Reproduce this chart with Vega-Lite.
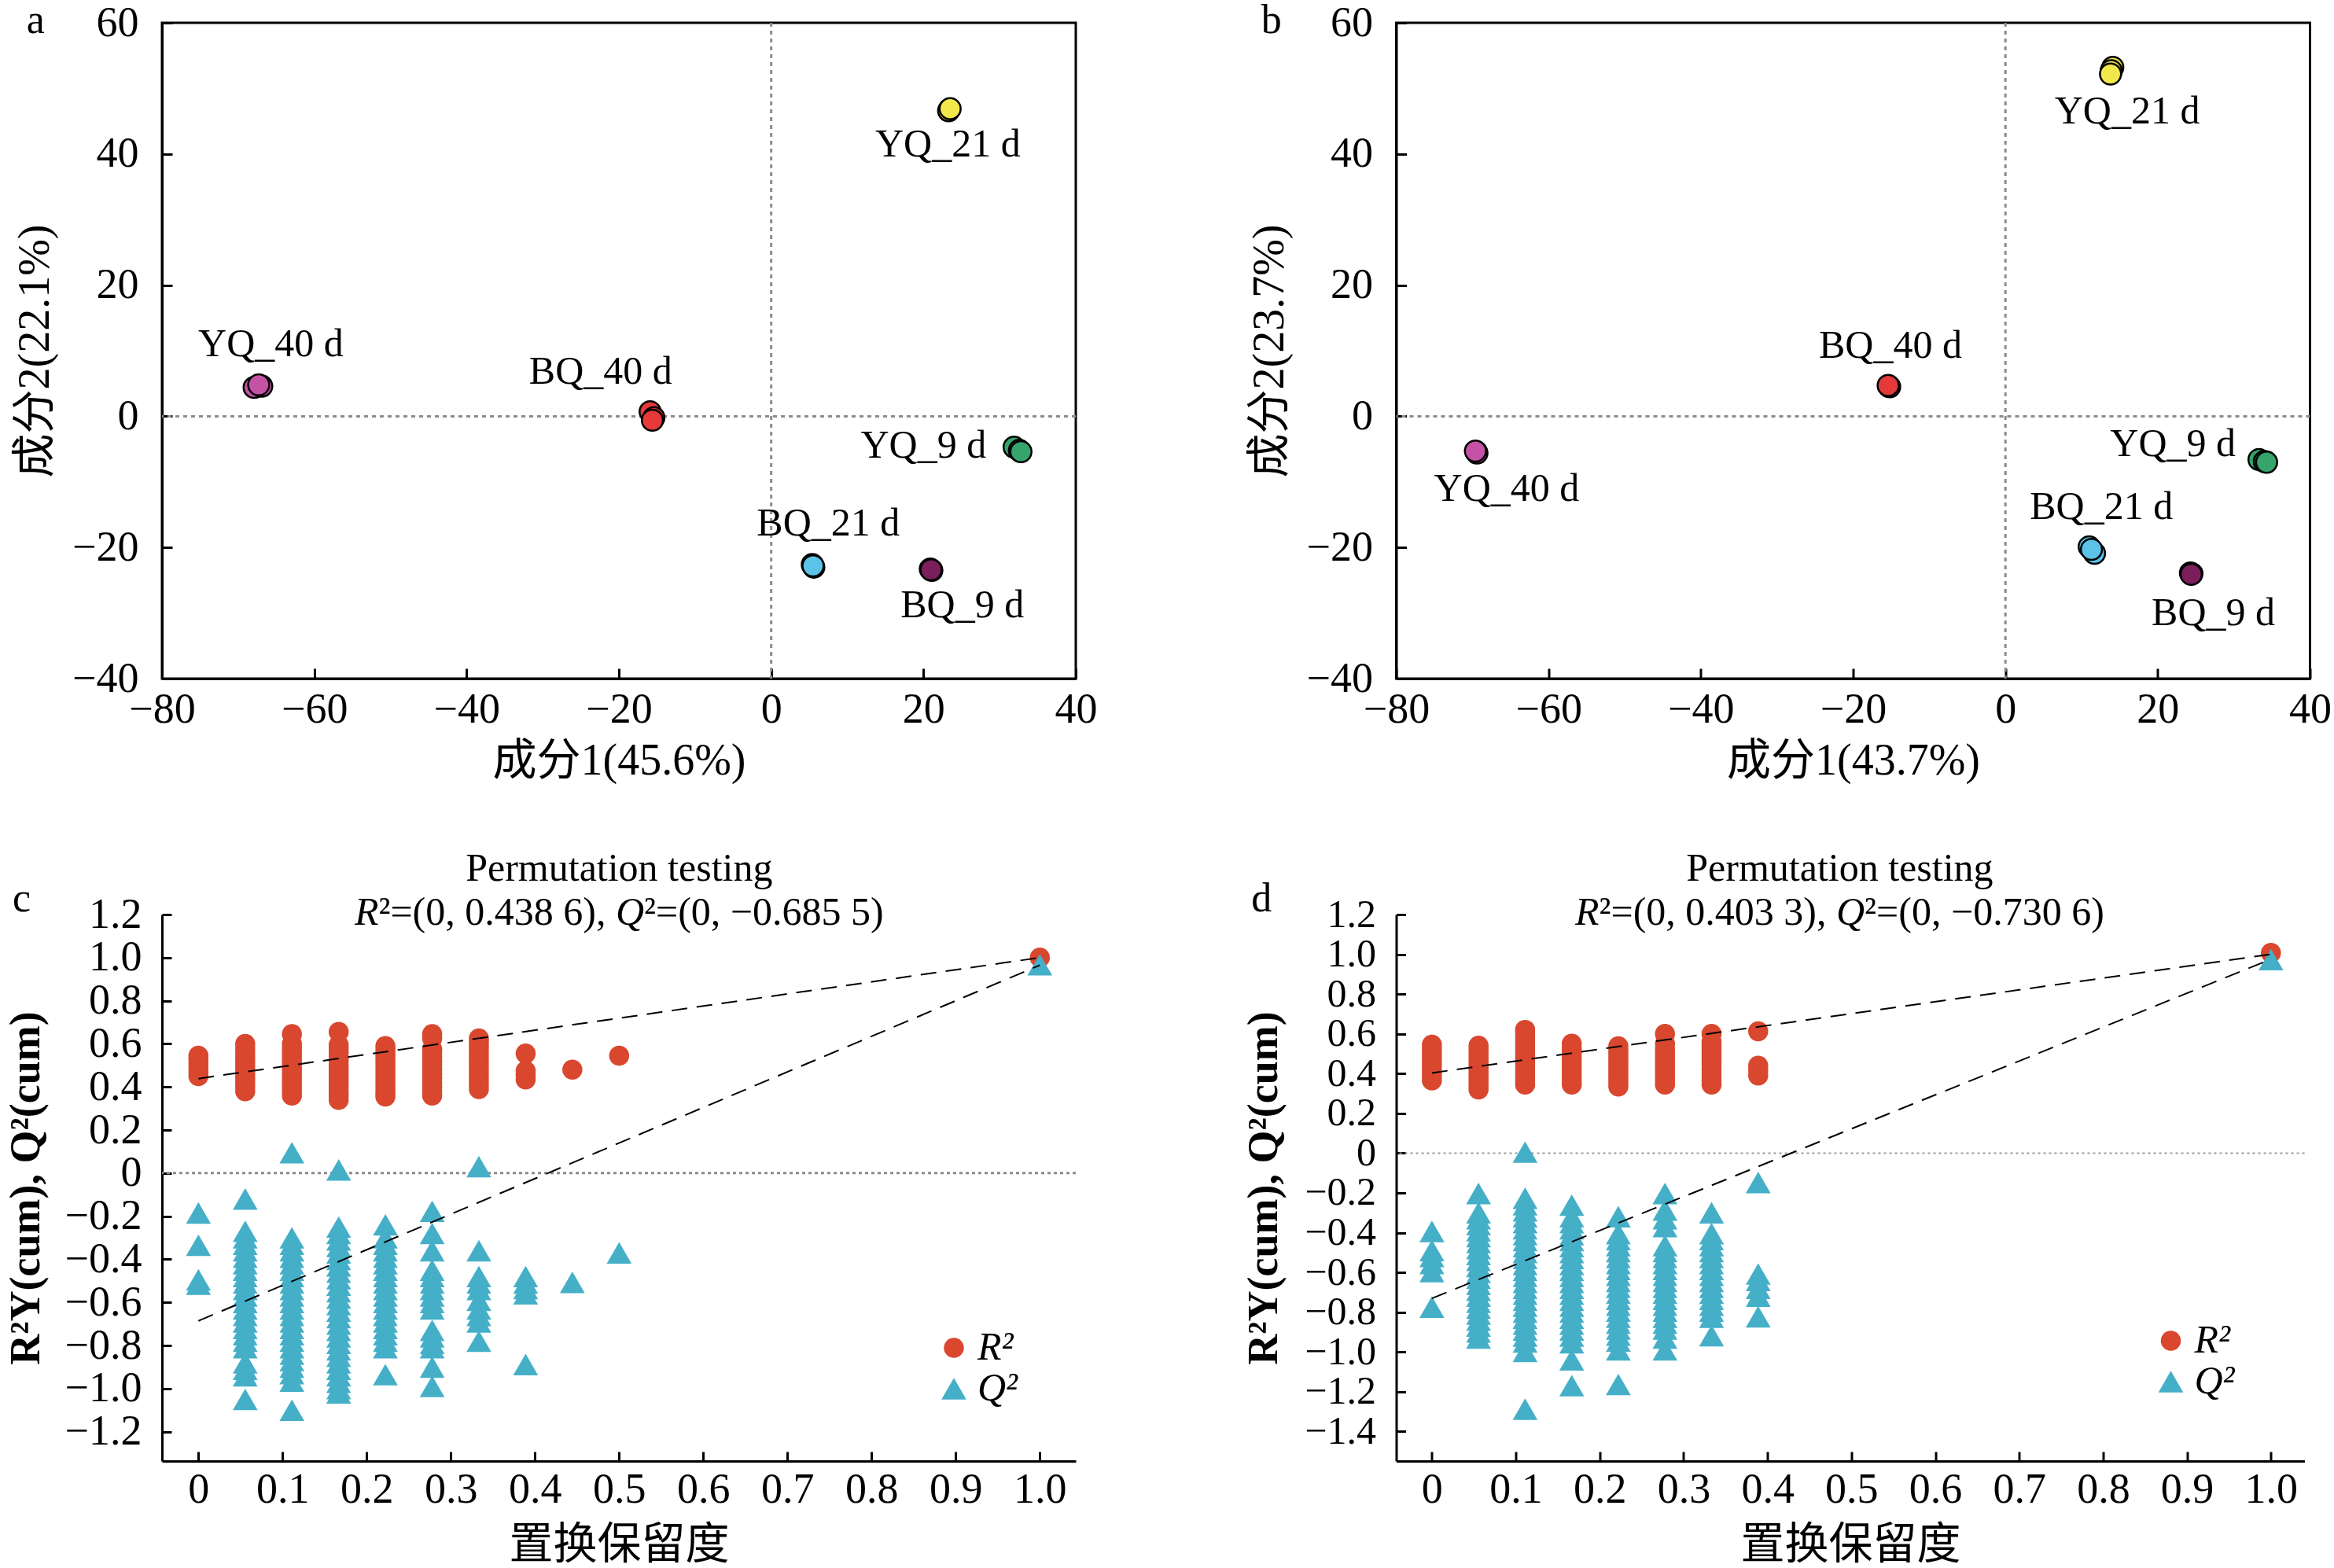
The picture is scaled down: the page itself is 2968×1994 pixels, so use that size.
{
"$schema": "https://vega.github.io/schema/vega-lite/v6.json",
"padding": {"left": 6, "top": -2, "right": 0, "bottom": 0},
"background": "white",
"config": {
  "view": {"stroke": null},
  "font": "Liberation Serif",
  "axis": {"grid": false, "domainColor": "black", "domainWidth": 3, "tickColor": "black", "tickWidth": 3, "labelColor": "black", "labelFont": "Liberation Serif", "labelFontSize": 54, "titleColor": "black", "titleFont": "Liberation Serif, Noto Sans CJK SC", "titleFontSize": 56, "titleFontWeight": "normal", "labelFlush": false, "labelOverlap": false},
  "axisX": {"tickSize": -13, "labelPadding": 68, "labelBaseline": "alphabetic", "titleBaseline": "alphabetic", "titlePadding": 55},
  "axisY": {"tickSize": -13, "labelPadding": 43, "titleBaseline": "alphabetic", "titlePadding": 30}
},
"resolve": {"scale": {"color": "independent", "shape": "independent", "size": "independent"}},
"columns": 2,
"spacing": {"row": 300, "column": 407.5},
"bounds": "flush",
"datasets": {
  "a": [
    {"g":"YQ_21 d","x":23.4,"y":46.8},{"g":"YQ_21 d","x":23.3,"y":46.6},{"g":"YQ_21 d","x":23.5,"y":46.9},
    {"g":"YQ_40 d","x":-67.9,"y":4.4},{"g":"YQ_40 d","x":-66.9,"y":4.6},{"g":"YQ_40 d","x":-67.3,"y":4.8},
    {"g":"BQ_40 d","x":-15.9,"y":0.7},{"g":"BQ_40 d","x":-15.4,"y":-0.2},{"g":"BQ_40 d","x":-15.6,"y":-0.6},
    {"g":"YQ_9 d","x":31.9,"y":-4.7},{"g":"YQ_9 d","x":32.6,"y":-5.2},{"g":"YQ_9 d","x":32.8,"y":-5.4},
    {"g":"BQ_21 d","x":5.4,"y":-22.6},{"g":"BQ_21 d","x":5.6,"y":-23.0},{"g":"BQ_21 d","x":5.5,"y":-22.8},
    {"g":"BQ_9 d","x":20.9,"y":-23.3},{"g":"BQ_9 d","x":21.1,"y":-23.5},{"g":"BQ_9 d","x":21.0,"y":-23.4}
  ],
  "al": [
    {"g":"YQ_21 d","x":23.2,"y":41.4},{"g":"YQ_40 d","x":-65.7,"y":10.9},{"g":"BQ_40 d","x":-22.4,"y":6.8},
    {"g":"YQ_9 d","x":20.0,"y":-4.5},{"g":"BQ_21 d","x":7.5,"y":-16.4},{"g":"BQ_9 d","x":25.1,"y":-28.9}
  ],
  "b": [
    {"g":"YQ_21 d","x":14.1,"y":53.2},{"g":"YQ_21 d","x":13.9,"y":52.7},{"g":"YQ_21 d","x":13.8,"y":52.2},
    {"g":"BQ_40 d","x":-15.3,"y":4.6},{"g":"BQ_40 d","x":-15.2,"y":4.5},{"g":"BQ_40 d","x":-15.4,"y":4.7},
    {"g":"YQ_40 d","x":-69.5,"y":-5.4},{"g":"YQ_40 d","x":-69.4,"y":-5.6},{"g":"YQ_40 d","x":-69.6,"y":-5.3},
    {"g":"YQ_9 d","x":33.3,"y":-6.6},{"g":"YQ_9 d","x":34.0,"y":-6.9},{"g":"YQ_9 d","x":34.3,"y":-7.0},
    {"g":"BQ_21 d","x":11.0,"y":-19.9},{"g":"BQ_21 d","x":11.7,"y":-20.9},{"g":"BQ_21 d","x":11.3,"y":-20.3},
    {"g":"BQ_9 d","x":24.3,"y":-23.9},{"g":"BQ_9 d","x":24.5,"y":-24.0},{"g":"BQ_9 d","x":24.4,"y":-24.1}
  ],
  "bl": [
    {"g":"YQ_21 d","x":16.0,"y":46.4},{"g":"BQ_40 d","x":-15.1,"y":10.7},{"g":"YQ_40 d","x":-65.5,"y":-11.1},
    {"g":"YQ_9 d","x":22.0,"y":-4.3},{"g":"BQ_21 d","x":12.6,"y":-13.9},{"g":"BQ_9 d","x":27.3,"y":-30.0}
  ],
  "c": [
    {"s":"R²","x":0,"y":0.45},{"s":"R²","x":0,"y":0.47},{"s":"R²","x":0,"y":0.49},{"s":"R²","x":0,"y":0.51},{"s":"R²","x":0,"y":0.53},{"s":"R²","x":0,"y":0.545},
    {"s":"R²","x":0.0556,"y":0.38},{"s":"R²","x":0.0556,"y":0.40},{"s":"R²","x":0.0556,"y":0.42},{"s":"R²","x":0.0556,"y":0.44},{"s":"R²","x":0.0556,"y":0.46},{"s":"R²","x":0.0556,"y":0.48},{"s":"R²","x":0.0556,"y":0.50},{"s":"R²","x":0.0556,"y":0.52},{"s":"R²","x":0.0556,"y":0.54},{"s":"R²","x":0.0556,"y":0.56},{"s":"R²","x":0.0556,"y":0.58},{"s":"R²","x":0.0556,"y":0.60},
    {"s":"R²","x":0.1111,"y":0.36},{"s":"R²","x":0.1111,"y":0.38},{"s":"R²","x":0.1111,"y":0.40},{"s":"R²","x":0.1111,"y":0.42},{"s":"R²","x":0.1111,"y":0.44},{"s":"R²","x":0.1111,"y":0.46},{"s":"R²","x":0.1111,"y":0.48},{"s":"R²","x":0.1111,"y":0.50},{"s":"R²","x":0.1111,"y":0.52},{"s":"R²","x":0.1111,"y":0.54},{"s":"R²","x":0.1111,"y":0.56},{"s":"R²","x":0.1111,"y":0.58},{"s":"R²","x":0.1111,"y":0.60},{"s":"R²","x":0.1111,"y":0.645},
    {"s":"R²","x":0.1667,"y":0.34},{"s":"R²","x":0.1667,"y":0.36},{"s":"R²","x":0.1667,"y":0.38},{"s":"R²","x":0.1667,"y":0.40},{"s":"R²","x":0.1667,"y":0.42},{"s":"R²","x":0.1667,"y":0.44},{"s":"R²","x":0.1667,"y":0.46},{"s":"R²","x":0.1667,"y":0.48},{"s":"R²","x":0.1667,"y":0.50},{"s":"R²","x":0.1667,"y":0.52},{"s":"R²","x":0.1667,"y":0.54},{"s":"R²","x":0.1667,"y":0.56},{"s":"R²","x":0.1667,"y":0.58},{"s":"R²","x":0.1667,"y":0.595},{"s":"R²","x":0.1667,"y":0.655},
    {"s":"R²","x":0.2222,"y":0.355},{"s":"R²","x":0.2222,"y":0.37},{"s":"R²","x":0.2222,"y":0.39},{"s":"R²","x":0.2222,"y":0.41},{"s":"R²","x":0.2222,"y":0.43},{"s":"R²","x":0.2222,"y":0.45},{"s":"R²","x":0.2222,"y":0.47},{"s":"R²","x":0.2222,"y":0.49},{"s":"R²","x":0.2222,"y":0.51},{"s":"R²","x":0.2222,"y":0.53},{"s":"R²","x":0.2222,"y":0.55},{"s":"R²","x":0.2222,"y":0.57},{"s":"R²","x":0.2222,"y":0.59},
    {"s":"R²","x":0.2778,"y":0.36},{"s":"R²","x":0.2778,"y":0.38},{"s":"R²","x":0.2778,"y":0.40},{"s":"R²","x":0.2778,"y":0.42},{"s":"R²","x":0.2778,"y":0.44},{"s":"R²","x":0.2778,"y":0.46},{"s":"R²","x":0.2778,"y":0.48},{"s":"R²","x":0.2778,"y":0.50},{"s":"R²","x":0.2778,"y":0.52},{"s":"R²","x":0.2778,"y":0.54},{"s":"R²","x":0.2778,"y":0.56},{"s":"R²","x":0.2778,"y":0.575},{"s":"R²","x":0.2778,"y":0.625},{"s":"R²","x":0.2778,"y":0.645},
    {"s":"R²","x":0.3333,"y":0.39},{"s":"R²","x":0.3333,"y":0.41},{"s":"R²","x":0.3333,"y":0.43},{"s":"R²","x":0.3333,"y":0.45},{"s":"R²","x":0.3333,"y":0.47},{"s":"R²","x":0.3333,"y":0.49},{"s":"R²","x":0.3333,"y":0.51},{"s":"R²","x":0.3333,"y":0.53},{"s":"R²","x":0.3333,"y":0.55},{"s":"R²","x":0.3333,"y":0.57},{"s":"R²","x":0.3333,"y":0.59},{"s":"R²","x":0.3333,"y":0.61},{"s":"R²","x":0.3333,"y":0.625},
    {"s":"R²","x":0.3889,"y":0.435},{"s":"R²","x":0.3889,"y":0.455},{"s":"R²","x":0.3889,"y":0.475},{"s":"R²","x":0.3889,"y":0.555},
    {"s":"R²","x":0.4444,"y":0.48},{"s":"R²","x":0.5,"y":0.545},{"s":"R²","x":1,"y":1.0},
    {"s":"Q²","x":0,"y":-0.185},{"s":"Q²","x":0,"y":-0.335},{"s":"Q²","x":0,"y":-0.495},{"s":"Q²","x":0,"y":-0.515},
    {"s":"Q²","x":0.0556,"y":-0.12},{"s":"Q²","x":0.0556,"y":-0.27},{"s":"Q²","x":0.0556,"y":-0.30},{"s":"Q²","x":0.0556,"y":-0.33},{"s":"Q²","x":0.0556,"y":-0.36},{"s":"Q²","x":0.0556,"y":-0.39},{"s":"Q²","x":0.0556,"y":-0.42},{"s":"Q²","x":0.0556,"y":-0.45},{"s":"Q²","x":0.0556,"y":-0.48},{"s":"Q²","x":0.0556,"y":-0.51},{"s":"Q²","x":0.0556,"y":-0.54},{"s":"Q²","x":0.0556,"y":-0.57},{"s":"Q²","x":0.0556,"y":-0.60},{"s":"Q²","x":0.0556,"y":-0.63},{"s":"Q²","x":0.0556,"y":-0.66},{"s":"Q²","x":0.0556,"y":-0.69},{"s":"Q²","x":0.0556,"y":-0.72},{"s":"Q²","x":0.0556,"y":-0.75},{"s":"Q²","x":0.0556,"y":-0.78},{"s":"Q²","x":0.0556,"y":-0.81},{"s":"Q²","x":0.0556,"y":-0.88},{"s":"Q²","x":0.0556,"y":-0.91},{"s":"Q²","x":0.0556,"y":-0.94},{"s":"Q²","x":0.0556,"y":-1.05},
    {"s":"Q²","x":0.1111,"y":0.095},{"s":"Q²","x":0.1111,"y":-0.30},{"s":"Q²","x":0.1111,"y":-0.33},{"s":"Q²","x":0.1111,"y":-0.36},{"s":"Q²","x":0.1111,"y":-0.39},{"s":"Q²","x":0.1111,"y":-0.42},{"s":"Q²","x":0.1111,"y":-0.45},{"s":"Q²","x":0.1111,"y":-0.48},{"s":"Q²","x":0.1111,"y":-0.51},{"s":"Q²","x":0.1111,"y":-0.54},{"s":"Q²","x":0.1111,"y":-0.57},{"s":"Q²","x":0.1111,"y":-0.60},{"s":"Q²","x":0.1111,"y":-0.63},{"s":"Q²","x":0.1111,"y":-0.66},{"s":"Q²","x":0.1111,"y":-0.69},{"s":"Q²","x":0.1111,"y":-0.72},{"s":"Q²","x":0.1111,"y":-0.75},{"s":"Q²","x":0.1111,"y":-0.78},{"s":"Q²","x":0.1111,"y":-0.81},{"s":"Q²","x":0.1111,"y":-0.84},{"s":"Q²","x":0.1111,"y":-0.87},{"s":"Q²","x":0.1111,"y":-0.90},{"s":"Q²","x":0.1111,"y":-0.93},{"s":"Q²","x":0.1111,"y":-0.965},{"s":"Q²","x":0.1111,"y":-1.10},
    {"s":"Q²","x":0.1667,"y":0.015},{"s":"Q²","x":0.1667,"y":-0.25},{"s":"Q²","x":0.1667,"y":-0.28},{"s":"Q²","x":0.1667,"y":-0.31},{"s":"Q²","x":0.1667,"y":-0.34},{"s":"Q²","x":0.1667,"y":-0.37},{"s":"Q²","x":0.1667,"y":-0.40},{"s":"Q²","x":0.1667,"y":-0.43},{"s":"Q²","x":0.1667,"y":-0.46},{"s":"Q²","x":0.1667,"y":-0.49},{"s":"Q²","x":0.1667,"y":-0.52},{"s":"Q²","x":0.1667,"y":-0.55},{"s":"Q²","x":0.1667,"y":-0.58},{"s":"Q²","x":0.1667,"y":-0.61},{"s":"Q²","x":0.1667,"y":-0.64},{"s":"Q²","x":0.1667,"y":-0.67},{"s":"Q²","x":0.1667,"y":-0.70},{"s":"Q²","x":0.1667,"y":-0.73},{"s":"Q²","x":0.1667,"y":-0.76},{"s":"Q²","x":0.1667,"y":-0.79},{"s":"Q²","x":0.1667,"y":-0.82},{"s":"Q²","x":0.1667,"y":-0.85},{"s":"Q²","x":0.1667,"y":-0.88},{"s":"Q²","x":0.1667,"y":-0.91},{"s":"Q²","x":0.1667,"y":-0.94},{"s":"Q²","x":0.1667,"y":-0.97},{"s":"Q²","x":0.1667,"y":-1.00},{"s":"Q²","x":0.1667,"y":-1.02},
    {"s":"Q²","x":0.2222,"y":-0.24},{"s":"Q²","x":0.2222,"y":-0.30},{"s":"Q²","x":0.2222,"y":-0.33},{"s":"Q²","x":0.2222,"y":-0.36},{"s":"Q²","x":0.2222,"y":-0.39},{"s":"Q²","x":0.2222,"y":-0.42},{"s":"Q²","x":0.2222,"y":-0.45},{"s":"Q²","x":0.2222,"y":-0.48},{"s":"Q²","x":0.2222,"y":-0.51},{"s":"Q²","x":0.2222,"y":-0.54},{"s":"Q²","x":0.2222,"y":-0.57},{"s":"Q²","x":0.2222,"y":-0.60},{"s":"Q²","x":0.2222,"y":-0.63},{"s":"Q²","x":0.2222,"y":-0.66},{"s":"Q²","x":0.2222,"y":-0.69},{"s":"Q²","x":0.2222,"y":-0.72},{"s":"Q²","x":0.2222,"y":-0.75},{"s":"Q²","x":0.2222,"y":-0.78},{"s":"Q²","x":0.2222,"y":-0.81},{"s":"Q²","x":0.2222,"y":-0.935},
    {"s":"Q²","x":0.2778,"y":-0.177},{"s":"Q²","x":0.2778,"y":-0.28},{"s":"Q²","x":0.2778,"y":-0.36},{"s":"Q²","x":0.2778,"y":-0.45},{"s":"Q²","x":0.2778,"y":-0.48},{"s":"Q²","x":0.2778,"y":-0.51},{"s":"Q²","x":0.2778,"y":-0.54},{"s":"Q²","x":0.2778,"y":-0.57},{"s":"Q²","x":0.2778,"y":-0.60},{"s":"Q²","x":0.2778,"y":-0.63},{"s":"Q²","x":0.2778,"y":-0.73},{"s":"Q²","x":0.2778,"y":-0.76},{"s":"Q²","x":0.2778,"y":-0.79},{"s":"Q²","x":0.2778,"y":-0.81},{"s":"Q²","x":0.2778,"y":-0.90},{"s":"Q²","x":0.2778,"y":-0.99},
    {"s":"Q²","x":0.3333,"y":0.03},{"s":"Q²","x":0.3333,"y":-0.36},{"s":"Q²","x":0.3333,"y":-0.48},{"s":"Q²","x":0.3333,"y":-0.51},{"s":"Q²","x":0.3333,"y":-0.54},{"s":"Q²","x":0.3333,"y":-0.59},{"s":"Q²","x":0.3333,"y":-0.63},{"s":"Q²","x":0.3333,"y":-0.66},{"s":"Q²","x":0.3333,"y":-0.69},{"s":"Q²","x":0.3333,"y":-0.78},
    {"s":"Q²","x":0.3889,"y":-0.48},{"s":"Q²","x":0.3889,"y":-0.51},{"s":"Q²","x":0.3889,"y":-0.535},{"s":"Q²","x":0.3889,"y":-0.56},{"s":"Q²","x":0.3889,"y":-0.888},
    {"s":"Q²","x":0.4444,"y":-0.507},{"s":"Q²","x":0.5,"y":-0.37},{"s":"Q²","x":1,"y":0.967}
  ],
  "cl": [
    {"s":"R²","x":0,"y":0.4386},{"s":"R²","x":1,"y":1.0},
    {"s":"Q²","x":0,"y":-0.6855},{"s":"Q²","x":1,"y":0.965}
  ],
  "d": [
    {"s":"R²","x":0,"y":0.365},{"s":"R²","x":0,"y":0.385},{"s":"R²","x":0,"y":0.405},{"s":"R²","x":0,"y":0.425},{"s":"R²","x":0,"y":0.445},{"s":"R²","x":0,"y":0.465},{"s":"R²","x":0,"y":0.485},{"s":"R²","x":0,"y":0.505},{"s":"R²","x":0,"y":0.525},{"s":"R²","x":0,"y":0.545},
    {"s":"R²","x":0.0556,"y":0.32},{"s":"R²","x":0.0556,"y":0.34},{"s":"R²","x":0.0556,"y":0.36},{"s":"R²","x":0.0556,"y":0.38},{"s":"R²","x":0.0556,"y":0.40},{"s":"R²","x":0.0556,"y":0.42},{"s":"R²","x":0.0556,"y":0.44},{"s":"R²","x":0.0556,"y":0.46},{"s":"R²","x":0.0556,"y":0.48},{"s":"R²","x":0.0556,"y":0.50},{"s":"R²","x":0.0556,"y":0.52},{"s":"R²","x":0.0556,"y":0.54},
    {"s":"R²","x":0.1111,"y":0.345},{"s":"R²","x":0.1111,"y":0.365},{"s":"R²","x":0.1111,"y":0.385},{"s":"R²","x":0.1111,"y":0.405},{"s":"R²","x":0.1111,"y":0.425},{"s":"R²","x":0.1111,"y":0.445},{"s":"R²","x":0.1111,"y":0.465},{"s":"R²","x":0.1111,"y":0.485},{"s":"R²","x":0.1111,"y":0.505},{"s":"R²","x":0.1111,"y":0.525},{"s":"R²","x":0.1111,"y":0.545},{"s":"R²","x":0.1111,"y":0.565},{"s":"R²","x":0.1111,"y":0.585},{"s":"R²","x":0.1111,"y":0.605},{"s":"R²","x":0.1111,"y":0.62},
    {"s":"R²","x":0.1667,"y":0.345},{"s":"R²","x":0.1667,"y":0.365},{"s":"R²","x":0.1667,"y":0.385},{"s":"R²","x":0.1667,"y":0.405},{"s":"R²","x":0.1667,"y":0.425},{"s":"R²","x":0.1667,"y":0.445},{"s":"R²","x":0.1667,"y":0.465},{"s":"R²","x":0.1667,"y":0.485},{"s":"R²","x":0.1667,"y":0.505},{"s":"R²","x":0.1667,"y":0.525},{"s":"R²","x":0.1667,"y":0.55},
    {"s":"R²","x":0.2222,"y":0.335},{"s":"R²","x":0.2222,"y":0.355},{"s":"R²","x":0.2222,"y":0.375},{"s":"R²","x":0.2222,"y":0.395},{"s":"R²","x":0.2222,"y":0.415},{"s":"R²","x":0.2222,"y":0.435},{"s":"R²","x":0.2222,"y":0.455},{"s":"R²","x":0.2222,"y":0.475},{"s":"R²","x":0.2222,"y":0.495},{"s":"R²","x":0.2222,"y":0.515},{"s":"R²","x":0.2222,"y":0.537},
    {"s":"R²","x":0.2778,"y":0.345},{"s":"R²","x":0.2778,"y":0.365},{"s":"R²","x":0.2778,"y":0.385},{"s":"R²","x":0.2778,"y":0.405},{"s":"R²","x":0.2778,"y":0.425},{"s":"R²","x":0.2778,"y":0.445},{"s":"R²","x":0.2778,"y":0.465},{"s":"R²","x":0.2778,"y":0.485},{"s":"R²","x":0.2778,"y":0.505},{"s":"R²","x":0.2778,"y":0.525},{"s":"R²","x":0.2778,"y":0.55},{"s":"R²","x":0.2778,"y":0.60},
    {"s":"R²","x":0.3333,"y":0.345},{"s":"R²","x":0.3333,"y":0.365},{"s":"R²","x":0.3333,"y":0.385},{"s":"R²","x":0.3333,"y":0.405},{"s":"R²","x":0.3333,"y":0.425},{"s":"R²","x":0.3333,"y":0.445},{"s":"R²","x":0.3333,"y":0.465},{"s":"R²","x":0.3333,"y":0.485},{"s":"R²","x":0.3333,"y":0.505},{"s":"R²","x":0.3333,"y":0.525},{"s":"R²","x":0.3333,"y":0.545},{"s":"R²","x":0.3333,"y":0.56},{"s":"R²","x":0.3333,"y":0.60},
    {"s":"R²","x":0.3889,"y":0.39},{"s":"R²","x":0.3889,"y":0.415},{"s":"R²","x":0.3889,"y":0.44},{"s":"R²","x":0.3889,"y":0.613},
    {"s":"R²","x":1,"y":1.007},
    {"s":"Q²","x":0,"y":-0.394},{"s":"Q²","x":0,"y":-0.49},{"s":"Q²","x":0,"y":-0.52},{"s":"Q²","x":0,"y":-0.555},{"s":"Q²","x":0,"y":-0.596},{"s":"Q²","x":0,"y":-0.775},
    {"s":"Q²","x":0.0556,"y":-0.203},{"s":"Q²","x":0.0556,"y":-0.30},{"s":"Q²","x":0.0556,"y":-0.33},{"s":"Q²","x":0.0556,"y":-0.36},{"s":"Q²","x":0.0556,"y":-0.39},{"s":"Q²","x":0.0556,"y":-0.42},{"s":"Q²","x":0.0556,"y":-0.45},{"s":"Q²","x":0.0556,"y":-0.48},{"s":"Q²","x":0.0556,"y":-0.51},{"s":"Q²","x":0.0556,"y":-0.54},{"s":"Q²","x":0.0556,"y":-0.57},{"s":"Q²","x":0.0556,"y":-0.60},{"s":"Q²","x":0.0556,"y":-0.63},{"s":"Q²","x":0.0556,"y":-0.66},{"s":"Q²","x":0.0556,"y":-0.69},{"s":"Q²","x":0.0556,"y":-0.72},{"s":"Q²","x":0.0556,"y":-0.75},{"s":"Q²","x":0.0556,"y":-0.78},{"s":"Q²","x":0.0556,"y":-0.81},{"s":"Q²","x":0.0556,"y":-0.84},{"s":"Q²","x":0.0556,"y":-0.87},{"s":"Q²","x":0.0556,"y":-0.90},{"s":"Q²","x":0.0556,"y":-0.93},
    {"s":"Q²","x":0.1111,"y":0.005},{"s":"Q²","x":0.1111,"y":-0.227},{"s":"Q²","x":0.1111,"y":-0.26},{"s":"Q²","x":0.1111,"y":-0.29},{"s":"Q²","x":0.1111,"y":-0.32},{"s":"Q²","x":0.1111,"y":-0.35},{"s":"Q²","x":0.1111,"y":-0.38},{"s":"Q²","x":0.1111,"y":-0.41},{"s":"Q²","x":0.1111,"y":-0.44},{"s":"Q²","x":0.1111,"y":-0.47},{"s":"Q²","x":0.1111,"y":-0.50},{"s":"Q²","x":0.1111,"y":-0.53},{"s":"Q²","x":0.1111,"y":-0.56},{"s":"Q²","x":0.1111,"y":-0.59},{"s":"Q²","x":0.1111,"y":-0.62},{"s":"Q²","x":0.1111,"y":-0.65},{"s":"Q²","x":0.1111,"y":-0.68},{"s":"Q²","x":0.1111,"y":-0.71},{"s":"Q²","x":0.1111,"y":-0.74},{"s":"Q²","x":0.1111,"y":-0.77},{"s":"Q²","x":0.1111,"y":-0.80},{"s":"Q²","x":0.1111,"y":-0.83},{"s":"Q²","x":0.1111,"y":-0.86},{"s":"Q²","x":0.1111,"y":-0.89},{"s":"Q²","x":0.1111,"y":-0.92},{"s":"Q²","x":0.1111,"y":-0.95},{"s":"Q²","x":0.1111,"y":-0.997},{"s":"Q²","x":0.1111,"y":-1.288},
    {"s":"Q²","x":0.1667,"y":-0.262},{"s":"Q²","x":0.1667,"y":-0.32},{"s":"Q²","x":0.1667,"y":-0.35},{"s":"Q²","x":0.1667,"y":-0.38},{"s":"Q²","x":0.1667,"y":-0.41},{"s":"Q²","x":0.1667,"y":-0.44},{"s":"Q²","x":0.1667,"y":-0.47},{"s":"Q²","x":0.1667,"y":-0.50},{"s":"Q²","x":0.1667,"y":-0.53},{"s":"Q²","x":0.1667,"y":-0.56},{"s":"Q²","x":0.1667,"y":-0.59},{"s":"Q²","x":0.1667,"y":-0.62},{"s":"Q²","x":0.1667,"y":-0.65},{"s":"Q²","x":0.1667,"y":-0.68},{"s":"Q²","x":0.1667,"y":-0.71},{"s":"Q²","x":0.1667,"y":-0.74},{"s":"Q²","x":0.1667,"y":-0.77},{"s":"Q²","x":0.1667,"y":-0.80},{"s":"Q²","x":0.1667,"y":-0.83},{"s":"Q²","x":0.1667,"y":-0.86},{"s":"Q²","x":0.1667,"y":-0.89},{"s":"Q²","x":0.1667,"y":-0.92},{"s":"Q²","x":0.1667,"y":-0.954},{"s":"Q²","x":0.1667,"y":-1.04},{"s":"Q²","x":0.1667,"y":-1.17},
    {"s":"Q²","x":0.2222,"y":-0.32},{"s":"Q²","x":0.2222,"y":-0.405},{"s":"Q²","x":0.2222,"y":-0.435},{"s":"Q²","x":0.2222,"y":-0.465},{"s":"Q²","x":0.2222,"y":-0.495},{"s":"Q²","x":0.2222,"y":-0.525},{"s":"Q²","x":0.2222,"y":-0.555},{"s":"Q²","x":0.2222,"y":-0.585},{"s":"Q²","x":0.2222,"y":-0.615},{"s":"Q²","x":0.2222,"y":-0.645},{"s":"Q²","x":0.2222,"y":-0.675},{"s":"Q²","x":0.2222,"y":-0.705},{"s":"Q²","x":0.2222,"y":-0.735},{"s":"Q²","x":0.2222,"y":-0.765},{"s":"Q²","x":0.2222,"y":-0.795},{"s":"Q²","x":0.2222,"y":-0.825},{"s":"Q²","x":0.2222,"y":-0.855},{"s":"Q²","x":0.2222,"y":-0.885},{"s":"Q²","x":0.2222,"y":-0.915},{"s":"Q²","x":0.2222,"y":-0.945},{"s":"Q²","x":0.2222,"y":-0.99},{"s":"Q²","x":0.2222,"y":-1.164},
    {"s":"Q²","x":0.2778,"y":-0.203},{"s":"Q²","x":0.2778,"y":-0.286},{"s":"Q²","x":0.2778,"y":-0.33},{"s":"Q²","x":0.2778,"y":-0.37},{"s":"Q²","x":0.2778,"y":-0.465},{"s":"Q²","x":0.2778,"y":-0.495},{"s":"Q²","x":0.2778,"y":-0.525},{"s":"Q²","x":0.2778,"y":-0.555},{"s":"Q²","x":0.2778,"y":-0.585},{"s":"Q²","x":0.2778,"y":-0.615},{"s":"Q²","x":0.2778,"y":-0.645},{"s":"Q²","x":0.2778,"y":-0.675},{"s":"Q²","x":0.2778,"y":-0.705},{"s":"Q²","x":0.2778,"y":-0.735},{"s":"Q²","x":0.2778,"y":-0.765},{"s":"Q²","x":0.2778,"y":-0.795},{"s":"Q²","x":0.2778,"y":-0.825},{"s":"Q²","x":0.2778,"y":-0.855},{"s":"Q²","x":0.2778,"y":-0.885},{"s":"Q²","x":0.2778,"y":-0.93},{"s":"Q²","x":0.2778,"y":-0.99},
    {"s":"Q²","x":0.3333,"y":-0.30},{"s":"Q²","x":0.3333,"y":-0.405},{"s":"Q²","x":0.3333,"y":-0.435},{"s":"Q²","x":0.3333,"y":-0.465},{"s":"Q²","x":0.3333,"y":-0.495},{"s":"Q²","x":0.3333,"y":-0.525},{"s":"Q²","x":0.3333,"y":-0.555},{"s":"Q²","x":0.3333,"y":-0.585},{"s":"Q²","x":0.3333,"y":-0.615},{"s":"Q²","x":0.3333,"y":-0.645},{"s":"Q²","x":0.3333,"y":-0.675},{"s":"Q²","x":0.3333,"y":-0.705},{"s":"Q²","x":0.3333,"y":-0.735},{"s":"Q²","x":0.3333,"y":-0.765},{"s":"Q²","x":0.3333,"y":-0.795},{"s":"Q²","x":0.3333,"y":-0.825},{"s":"Q²","x":0.3333,"y":-0.918},
    {"s":"Q²","x":0.3889,"y":-0.148},{"s":"Q²","x":0.3889,"y":-0.608},{"s":"Q²","x":0.3889,"y":-0.64},{"s":"Q²","x":0.3889,"y":-0.68},{"s":"Q²","x":0.3889,"y":-0.72},{"s":"Q²","x":0.3889,"y":-0.823},
    {"s":"Q²","x":1,"y":0.973}
  ],
  "dl": [
    {"s":"R²","x":0,"y":0.4033},{"s":"R²","x":1,"y":1.0},
    {"s":"Q²","x":0,"y":-0.7306},{"s":"Q²","x":1,"y":0.975}
  ]
},
"concat": [
  {
    "width": 1162, "height": 834,
    "view": {"stroke": "black", "strokeWidth": 3},
    "layer": [
      {"data": {"values": [{}]}, "mark": {"type": "rule", "color": "#8c8c8c", "strokeWidth": 3, "strokeDash": [5, 5]}, "encoding": {"x": {"datum": 0, "type": "quantitative"}}},
      {"data": {"values": [{}]}, "mark": {"type": "rule", "color": "#8c8c8c", "strokeWidth": 3, "strokeDash": [5, 5]}, "encoding": {"y": {"datum": 0, "type": "quantitative"}}},
      {"data": {"name": "a"}, "mark": {"type": "circle", "size": 720, "opacity": 1, "stroke": "black", "strokeWidth": 2.5},
       "encoding": {
         "x": {"field": "x", "type": "quantitative", "scale": {"domain": [-80, 40], "nice": false, "zero": false}, "axis": {"title": "成分1(45.6%)", "values": [-80, -60, -40, -20, 0, 20, 40]}},
         "y": {"field": "y", "type": "quantitative", "scale": {"domain": [-40, 60], "nice": false, "zero": false}, "axis": {"title": "成分2(22.1%)", "values": [-40, -20, 0, 20, 40, 60]}},
         "color": {"field": "g", "type": "nominal", "scale": {"domain": ["YQ_21 d", "YQ_40 d", "BQ_40 d", "YQ_9 d", "BQ_21 d", "BQ_9 d"], "range": ["#F2E84B", "#C453A6", "#E5393A", "#35A56B", "#5CC3E8", "#7B1F5C"]}, "legend": null}
       }},
      {"data": {"name": "al"}, "mark": {"type": "text", "fontSize": 50, "font": "Liberation Serif", "align": "center", "baseline": "middle", "color": "black"},
       "encoding": {"x": {"field": "x", "type": "quantitative"}, "y": {"field": "y", "type": "quantitative"}, "text": {"field": "g"}}},
      {"data": {"values": [{}]}, "mark": {"type": "text", "fontSize": 52, "font": "Liberation Serif", "align": "center", "baseline": "alphabetic", "text": "a", "color": "black"},
       "encoding": {"x": {"datum": -96.6}, "y": {"datum": 58.5}}}
    ]
  },
  {
    "width": 1162, "height": 834,
    "view": {"stroke": "black", "strokeWidth": 3},
    "layer": [
      {"data": {"values": [{}]}, "mark": {"type": "rule", "color": "#8c8c8c", "strokeWidth": 3, "strokeDash": [5, 5]}, "encoding": {"x": {"datum": 0, "type": "quantitative"}}},
      {"data": {"values": [{}]}, "mark": {"type": "rule", "color": "#8c8c8c", "strokeWidth": 3, "strokeDash": [5, 5]}, "encoding": {"y": {"datum": 0, "type": "quantitative"}}},
      {"data": {"name": "b"}, "mark": {"type": "circle", "size": 720, "opacity": 1, "stroke": "black", "strokeWidth": 2.5},
       "encoding": {
         "x": {"field": "x", "type": "quantitative", "scale": {"domain": [-80, 40], "nice": false, "zero": false}, "axis": {"title": "成分1(43.7%)", "values": [-80, -60, -40, -20, 0, 20, 40]}},
         "y": {"field": "y", "type": "quantitative", "scale": {"domain": [-40, 60], "nice": false, "zero": false}, "axis": {"title": "成分2(23.7%)", "values": [-40, -20, 0, 20, 40, 60]}},
         "color": {"field": "g", "type": "nominal", "scale": {"domain": ["YQ_21 d", "YQ_40 d", "BQ_40 d", "YQ_9 d", "BQ_21 d", "BQ_9 d"], "range": ["#F2E84B", "#C453A6", "#E5393A", "#35A56B", "#5CC3E8", "#7B1F5C"]}, "legend": null}
       }},
      {"data": {"name": "bl"}, "mark": {"type": "text", "fontSize": 50, "font": "Liberation Serif", "align": "center", "baseline": "middle", "color": "black"},
       "encoding": {"x": {"field": "x", "type": "quantitative"}, "y": {"field": "y", "type": "quantitative"}, "text": {"field": "g"}}},
      {"data": {"values": [{}]}, "mark": {"type": "text", "fontSize": 52, "font": "Liberation Serif", "align": "center", "baseline": "alphabetic", "text": "b", "color": "black"},
       "encoding": {"x": {"datum": -96.4}, "y": {"datum": 58.5}}}
    ]
  },
  {
    "width": 1162, "height": 695,
    "layer": [
      {"data": {"values": [{}]}, "mark": {"type": "rule", "color": "#8c8c8c", "strokeWidth": 3, "strokeDash": [4, 4]}, "encoding": {"y": {"datum": 0, "type": "quantitative"}}},
      {"data": {"name": "c"}, "mark": {"type": "point", "filled": true, "opacity": 1, "strokeWidth": 0},
       "encoding": {
         "x": {"field": "x", "type": "quantitative", "scale": {"domain": [-0.0433, 1.0427], "nice": false, "zero": false}, "axis": {"title": "置换保留度", "values": [0, 0.1, 0.2, 0.3, 0.4, 0.5, 0.6, 0.7, 0.8, 0.9, 1.0], "labelExpr": "abs(datum.value) < 1e-9 ? '0' : format(datum.value, '.1f')", "tickSize": -12, "labelPadding": 64, "titlePadding": 60}},
         "y": {"field": "y", "type": "quantitative", "scale": {"domain": [-1.336, 1.2], "nice": false, "zero": false}, "axis": {"title": "R²Y(cum), Q²(cum)", "values": [-1.2, -1.0, -0.8, -0.6, -0.4, -0.2, 0, 0.2, 0.4, 0.6, 0.8, 1.0, 1.2], "labelExpr": "abs(datum.value) < 1e-9 ? '0' : format(datum.value, '.1f')", "tickSize": -12, "labelPadding": 38, "titlePadding": 33, "titleFont": "Liberation Serif", "titleFontWeight": "bold", "titleFontSize": 54}},
         "color": {"field": "s", "type": "nominal", "scale": {"domain": ["R²", "Q²"], "range": ["#D9472F", "#45AFC8"]}, "legend": {"title": null, "orient": "none", "legendX": 982, "legendY": 526, "labelFontSize": 50, "labelFont": "Liberation Serif", "labelFontStyle": "italic", "labelColor": "black", "symbolOpacity": 0.85, "labelOffset": 5, "rowPadding": 2, "padding": 0, "symbolStrokeWidth": 0}},
         "shape": {"field": "s", "type": "nominal", "scale": {"domain": ["R²", "Q²"], "range": ["circle", "triangle-up"]}},
         "size": {"field": "s", "type": "nominal", "scale": {"domain": ["R²", "Q²"], "range": [650, 1000]}}
       }},
      {"data": {"name": "cl"}, "mark": {"type": "line", "color": "black", "strokeWidth": 2, "strokeDash": [20, 12]},
       "encoding": {"x": {"field": "x", "type": "quantitative"}, "y": {"field": "y", "type": "quantitative"}, "detail": {"field": "s"}}},
      {"data": {"values": [{}]}, "mark": {"type": "text", "fontSize": 50, "font": "Liberation Serif", "align": "center", "baseline": "alphabetic", "text": "Permutation testing", "color": "black"},
       "encoding": {"x": {"datum": 0.5}, "y": {"datum": 1.357}}},
      {"data": {"values": [{}]}, "mark": {"type": "text", "fontSize": 50, "font": "Liberation Serif", "fontStyle": "italic", "align": "left", "baseline": "alphabetic", "dx": -336.4, "text": "R", "color": "black"},
       "encoding": {"x": {"datum": 0.5}, "y": {"datum": 1.1525}}},
      {"data": {"values": [{}]}, "mark": {"type": "text", "fontSize": 50, "font": "Liberation Serif", "align": "left", "baseline": "alphabetic", "dx": -305.9, "text": "²=(0, 0.438 6), ", "color": "black"},
       "encoding": {"x": {"datum": 0.5}, "y": {"datum": 1.1525}}},
      {"data": {"values": [{}]}, "mark": {"type": "text", "fontSize": 50, "font": "Liberation Serif", "fontStyle": "italic", "align": "left", "baseline": "alphabetic", "dx": -4.4, "text": "Q", "color": "black"},
       "encoding": {"x": {"datum": 0.5}, "y": {"datum": 1.1525}}},
      {"data": {"values": [{}]}, "mark": {"type": "text", "fontSize": 50, "font": "Liberation Serif", "align": "left", "baseline": "alphabetic", "dx": 31.7, "text": "²=(0, −0.685 5)", "color": "black"},
       "encoding": {"x": {"datum": 0.5}, "y": {"datum": 1.1525}}},
      {"data": {"values": [{}]}, "mark": {"type": "text", "fontSize": 52, "font": "Liberation Serif", "align": "center", "baseline": "alphabetic", "text": "c", "color": "black"},
       "encoding": {"x": {"datum": -0.21}, "y": {"datum": 1.215}}}
    ]
  },
  {
    "width": 1155, "height": 695,
    "layer": [
      {"data": {"values": [{}]}, "mark": {"type": "rule", "color": "#9a9a9a", "strokeWidth": 2, "strokeDash": [3, 4]}, "encoding": {"y": {"datum": 0, "type": "quantitative"}}},
      {"data": {"name": "d"}, "mark": {"type": "point", "filled": true, "opacity": 1, "strokeWidth": 0},
       "encoding": {
         "x": {"field": "x", "type": "quantitative", "scale": {"domain": [-0.0425, 1.04], "nice": false, "zero": false}, "axis": {"title": "置换保留度", "values": [0, 0.1, 0.2, 0.3, 0.4, 0.5, 0.6, 0.7, 0.8, 0.9, 1.0], "labelExpr": "abs(datum.value) < 1e-9 ? '0' : format(datum.value, '.1f')", "tickSize": -12, "labelPadding": 64, "titlePadding": 60}},
         "y": {"field": "y", "type": "quantitative", "scale": {"domain": [-1.549, 1.2], "nice": false, "zero": false}, "axis": {"title": "R²Y(cum), Q²(cum)", "values": [-1.4, -1.2, -1.0, -0.8, -0.6, -0.4, -0.2, 0, 0.2, 0.4, 0.6, 0.8, 1.0, 1.2], "labelExpr": "abs(datum.value) < 1e-9 ? '0' : format(datum.value, '.1f')", "tickSize": -12, "labelPadding": 38, "labelFontSize": 50, "titlePadding": 35, "titleFont": "Liberation Serif", "titleFontWeight": "bold", "titleFontSize": 54}},
         "color": {"field": "s", "type": "nominal", "scale": {"domain": ["R²", "Q²"], "range": ["#D9472F", "#45AFC8"]}, "legend": {"title": null, "orient": "none", "legendX": 960, "legendY": 517, "labelFontSize": 50, "labelFont": "Liberation Serif", "labelFontStyle": "italic", "labelColor": "black", "symbolOpacity": 0.85, "labelOffset": 5, "rowPadding": 2, "padding": 0, "symbolStrokeWidth": 0}},
         "shape": {"field": "s", "type": "nominal", "scale": {"domain": ["R²", "Q²"], "range": ["circle", "triangle-up"]}},
         "size": {"field": "s", "type": "nominal", "scale": {"domain": ["R²", "Q²"], "range": [650, 1000]}}
       }},
      {"data": {"name": "dl"}, "mark": {"type": "line", "color": "black", "strokeWidth": 2, "strokeDash": [20, 12]},
       "encoding": {"x": {"field": "x", "type": "quantitative"}, "y": {"field": "y", "type": "quantitative"}, "detail": {"field": "s"}}},
      {"data": {"values": [{}]}, "mark": {"type": "text", "fontSize": 50, "font": "Liberation Serif", "align": "center", "baseline": "alphabetic", "text": "Permutation testing", "color": "black"},
       "encoding": {"x": {"datum": 0.486}, "y": {"datum": 1.369}}},
      {"data": {"values": [{}]}, "mark": {"type": "text", "fontSize": 50, "font": "Liberation Serif", "fontStyle": "italic", "align": "left", "baseline": "alphabetic", "dx": -336.4, "text": "R", "color": "black"},
       "encoding": {"x": {"datum": 0.486}, "y": {"datum": 1.147}}},
      {"data": {"values": [{}]}, "mark": {"type": "text", "fontSize": 50, "font": "Liberation Serif", "align": "left", "baseline": "alphabetic", "dx": -305.9, "text": "²=(0, 0.403 3), ", "color": "black"},
       "encoding": {"x": {"datum": 0.486}, "y": {"datum": 1.147}}},
      {"data": {"values": [{}]}, "mark": {"type": "text", "fontSize": 50, "font": "Liberation Serif", "fontStyle": "italic", "align": "left", "baseline": "alphabetic", "dx": -4.4, "text": "Q", "color": "black"},
       "encoding": {"x": {"datum": 0.486}, "y": {"datum": 1.147}}},
      {"data": {"values": [{}]}, "mark": {"type": "text", "fontSize": 50, "font": "Liberation Serif", "align": "left", "baseline": "alphabetic", "dx": 31.7, "text": "²=(0, −0.730 6)", "color": "black"},
       "encoding": {"x": {"datum": 0.486}, "y": {"datum": 1.147}}},
      {"data": {"values": [{}]}, "mark": {"type": "text", "fontSize": 52, "font": "Liberation Serif", "align": "center", "baseline": "alphabetic", "text": "d", "color": "black"},
       "encoding": {"x": {"datum": -0.203}, "y": {"datum": 1.215}}}
    ]
  }
]
}
